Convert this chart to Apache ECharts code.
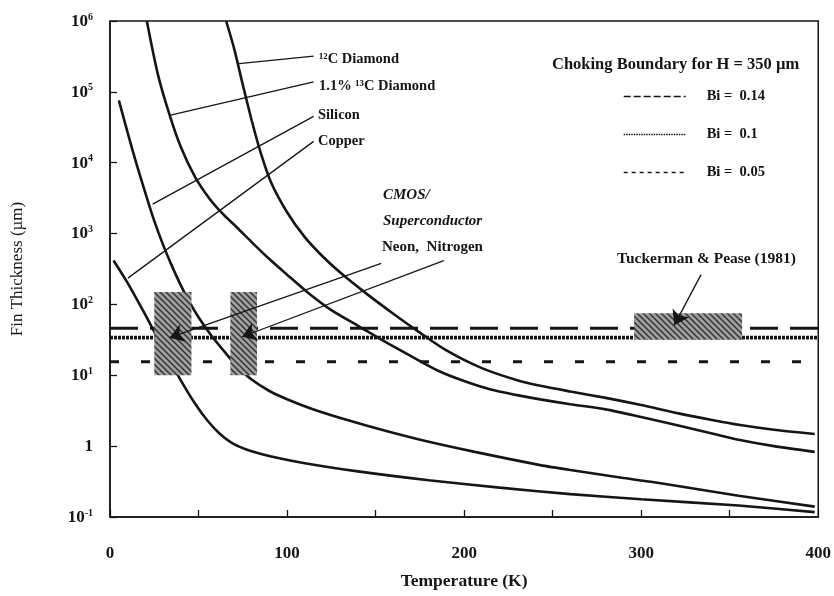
<!DOCTYPE html>
<html><head><meta charset="utf-8">
<script src="https://cdn.jsdelivr.net/npm/echarts@6/dist/echarts.min.js"></script>
<style>html,body{margin:0;padding:0;background:#fff}#c{width:834px;height:596px}</style>
</head><body><div id="c"></div>
<script>
// ---- data (Temperature K, Fin thickness µm) ----
const tC12 = [65.6, 70, 75, 80, 85, 91, 100, 110, 120, 130, 145, 160, 175, 190, 210, 230, 243, 260, 280, 300, 321, 340, 355, 375, 398];
const vC12 = [1e6, 4.17e5, 1.26e5, 3.98e4, 1.41e4, 5250, 2000, 891, 479, 282, 141, 74, 40, 22.4, 12.6, 8.5, 7.1, 5.9, 4.8, 3.8, 2.9, 2.34, 2.0, 1.7, 1.48];

const tC13 = [20.8, 27, 33.7, 40, 48, 56, 64, 72, 80, 90, 100, 112, 125, 140, 155, 170, 185, 200, 215, 230, 243, 260, 280, 300, 321, 340, 355, 375, 398];
const vC13 = [1e6, 1.78e5, 4.68e4, 1.66e4, 6310, 3160, 1860, 1200, 759, 437, 263, 145, 83, 50, 30, 18.6, 11.7, 8.3, 6.3, 5.25, 4.57, 3.9, 3.3, 2.57, 1.95, 1.51, 1.23, 1.0, 0.83];

const tSi = [5, 10, 15, 20, 25, 30, 35, 40, 45, 50, 57, 65, 72, 80, 90, 100, 115, 135, 155, 177, 206, 243, 260, 290, 311, 355, 398];
const vSi = [7.6e4, 2.63e4, 9550, 3720, 1510, 692, 347, 186, 107, 66, 37, 21, 13.2, 8.7, 6.0, 4.6, 3.3, 2.3, 1.66, 1.2, 0.83, 0.54, 0.46, 0.355, 0.30, 0.20, 0.14];

const tCu = [2, 10, 20, 30, 40, 48, 55, 62, 70, 80, 95, 110, 140, 180, 220, 260, 300, 355, 398];
const vCu = [417, 200, 71, 24, 8.5, 4.0, 2.3, 1.5, 1.07, 0.85, 0.68, 0.575, 0.44, 0.33, 0.26, 0.21, 0.178, 0.145, 0.117];

// choking boundaries (H = 350 µm)
const tBi = [0, 400];
const vBi014 = [46, 46];
const vBi010 = [34, 34];
const vBi005 = [15.5, 15.5];

// hatched regions [T0, T1, low, high]
const boxT0 = [25, 68, 296];
const boxT1 = [46, 83, 357];
const boxLo = [10, 10, 32];
const boxHi = [150, 150, 75];

// label leader lines (data coords): from label end to curve
const leadFromT = [115, 115, 115, 115];
const leadFromV = [3.2e5, 1.38e5, 4.5e4, 2.0e4];
const leadToT = [72.9, 34.2, 24.1, 10.1];
const leadToV = [2.5e5, 4.7e4, 2.6e3, 235];

// arrows (data coords)
const arrFromT = [153.2, 188.5, 333.8];
const arrFromV = [380, 415, 263];
const arrToT = [33.7, 74.6, 318.7];
const arrToV = [34, 35, 51];

const yTicks = ['10⁻¹', '1', '10¹', '10²', '10³', '10⁴', '10⁵', '10⁶'];
const xTickLabels = ['0', '100', '200', '300', '400'];

// ---- helpers ----
const FF = '"Liberation Serif", "Times New Roman", serif';
const INK = '#151515';
const pairs = (t, v) => t.map((x, i) => [x, v[i]]);

function hatch() {
  const c = document.createElement('canvas');
  c.width = 6; c.height = 6;
  const g = c.getContext('2d');
  g.fillStyle = '#a0a0a0'; g.fillRect(0, 0, 6, 6);
  g.strokeStyle = '#333'; g.lineWidth = 1.5;
  g.beginPath();
  g.moveTo(0, 0); g.lineTo(6, 6);
  g.moveTo(-3, 3); g.lineTo(3, 9);
  g.moveTo(3, -3); g.lineTo(9, 3);
  g.stroke();
  return c;
}
const hatchCanvas = hatch();

const curve = (name, t, v) => ({
  name, type: 'line', data: pairs(t, v), smooth: 0.25, symbol: 'none', z: 2,
  lineStyle: { color: INK, width: 2.6 }, silent: true
});
const bound = (name, v, type, width) => ({
  name, type: 'line', data: pairs(tBi, v), symbol: 'none', showSymbol: false, z: 1,
  lineStyle: { color: INK, width, type }, itemStyle: { color: INK }, silent: true
});
const txt = (x, y, text, size, extra) => ({
  type: 'text', x, y, silent: true,
  style: Object.assign({ text, fontFamily: FF, fontSize: size, fontWeight: 'bold', fill: INK, verticalAlign: 'middle' }, extra || {})
});

const chart = echarts.init(document.getElementById('c'), null, { renderer: 'canvas' });

const option = {
  backgroundColor: '#fff',
  animation: false,
  grid: { left: 110, right: 14, top: 21, bottom: 79, show: true, borderColor: INK, borderWidth: 1.5, backgroundColor: 'transparent' },
  title: {
    text: 'Choking Boundary for H = 350 µm', left: 547, top: 51,
    textStyle: { fontFamily: FF, fontSize: 16.5, fontWeight: 'bold', color: INK }
  },
  legend: {
    left: 618, top: 84, orient: 'vertical', itemWidth: 62, itemHeight: 14, itemGap: 23,
    selectedMode: false,
    itemStyle: { opacity: 0 },
    textStyle: { fontFamily: FF, fontSize: 14.5, fontWeight: 'bold', color: INK, padding: [5, 0, 0, 16] },
    data: [
      { name: 'Bi =  0.14', itemStyle: { opacity: 0 }, lineStyle: { width: 1.4, type: [7, 3] } },
      { name: 'Bi =  0.1', itemStyle: { opacity: 0 }, lineStyle: { width: 1.4, type: [1.5, 1] } },
      { name: 'Bi =  0.05', itemStyle: { opacity: 0 }, lineStyle: { width: 1.4, type: [4, 4] } }
    ]
  },
  xAxis: {
    type: 'value', min: 0, max: 400, interval: 50,
    axisLine: { show: true, lineStyle: { color: INK, width: 1.5 } },
    axisTick: { inside: true, length: 7, lineStyle: { color: INK, width: 1.3 } },
    splitLine: { show: false },
    axisLabel: {
      margin: 28, fontFamily: FF, fontSize: 17, fontWeight: 'bold', color: INK,
      formatter: v => { const i = xTickLabels.indexOf(String(v)); return i >= 0 ? xTickLabels[i] : ''; }
    },
    name: 'Temperature (K)', nameLocation: 'middle', nameGap: 55,
    nameTextStyle: { fontFamily: FF, fontSize: 17.5, fontWeight: 'bold', color: INK }
  },
  yAxis: {
    type: 'log', logBase: 10, min: 0.1, max: 1e6, splitNumber: 7,
    axisLine: { show: true, lineStyle: { color: INK, width: 1.5 } },
    axisTick: { inside: true, length: 7, lineStyle: { color: INK, width: 1.3 } },
    splitLine: { show: false },
    axisLabel: {
      margin: 17,
      formatter: v => {
        const e = Math.round(Math.log10(v));
        const s = yTicks[e + 1];
        if (s === '1') return '{b|1}';
        const exp = e === -1 ? '-1' : String(e);
        return '{b|10}{s|' + exp + '}';
      },
      rich: {
        b: { fontFamily: FF, fontSize: 17, fontWeight: 'bold', color: INK, verticalAlign: 'bottom' },
        s: { fontFamily: FF, fontSize: 10, fontWeight: 'bold', color: INK, verticalAlign: 'bottom', padding: [0, 0, 8, 0] }
      }
    },
    name: 'Fin Thickness (µm)', nameLocation: 'middle', nameGap: 84,
    nameTextStyle: { fontFamily: FF, fontSize: 17, color: INK }
  },
  series: [
    curve('12C Diamond', tC12, vC12),
    curve('1.1% 13C Diamond', tC13, vC13),
    curve('Silicon', tSi, vSi),
    curve('Copper', tCu, vCu),
    bound('Bi =  0.14', vBi014, [28, 12], 3),
    bound('Bi =  0.1', vBi010, [3, 1], 3.8),
    bound('Bi =  0.05', vBi005, [9, 22], 3),
    {
      name: 'regions', type: 'custom', z: 3, silent: true,
      data: boxT0.map((t, i) => [t, boxT1[i], boxLo[i], boxHi[i]]),
      encode: { x: [0, 1], y: [2, 3] },
      renderItem: (params, api) => {
        const p0 = api.coord([api.value(0), api.value(3)]);
        const p1 = api.coord([api.value(1), api.value(2)]);
        return { type: 'rect', shape: { x: p0[0], y: p0[1], width: p1[0] - p0[0], height: p1[1] - p0[1] },
                 style: { fill: { image: hatchCanvas, repeat: 'repeat' } } };
      }
    },
    {
      name: 'leaders', type: 'lines', coordinateSystem: 'cartesian2d', z: 4, silent: true,
      symbol: ['none', 'none'],
      lineStyle: { color: INK, width: 1.3, opacity: 1, curveness: 0 },
      data: leadFromT.map((t, i) => ({ coords: [[t, leadFromV[i]], [leadToT[i], leadToV[i]]] }))
    },
    {
      name: 'arrows', type: 'lines', coordinateSystem: 'cartesian2d', z: 5, silent: true,
      symbol: ['none', 'arrow'], symbolSize: 14,
      lineStyle: { color: INK, width: 1.3, opacity: 1, curveness: 0 },
      data: arrFromT.map((t, i) => ({ coords: [[t, arrFromV[i]], [arrToT[i], arrToV[i]]] }))
    }
  ],
  graphic: [
    txt(319, 59, '¹²C Diamond', 14.5),
    txt(319, 86, '1.1% ¹³C Diamond', 14.5),
    txt(318, 115, 'Silicon', 14.5),
    txt(318, 141, 'Copper', 14.5),
    txt(383, 195, 'CMOS/', 15, { fontStyle: 'italic' }),
    txt(383, 221, 'Superconductor', 15, { fontStyle: 'italic' }),
    txt(382, 247, 'Neon,  Nitrogen', 15),
    txt(617, 259, 'Tuckerman & Pease (1981)', 15.5)
  ]
};
chart.setOption(option);
</script>
</body></html>
